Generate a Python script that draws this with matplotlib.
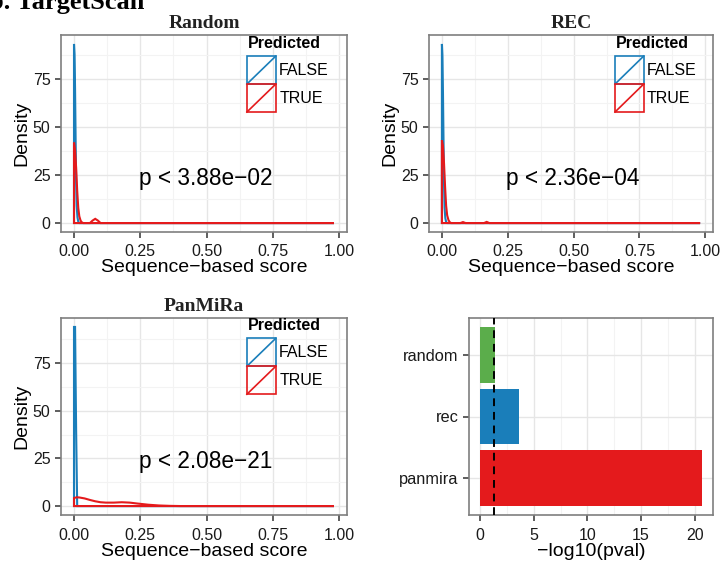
import numpy as np
import matplotlib
matplotlib.use("Agg")
import matplotlib.pyplot as plt
from matplotlib.patches import Rectangle
from matplotlib.lines import Line2D

# density outlines (score, density)
rand_false_x = [0.0, 0.0, 0.002, 0.004, 0.006, 0.008, 0.010, 0.013, 0.016, 0.02, 0.98]
rand_false_y = [0.0, 93.5, 88.0, 70.0, 45.0, 22.0, 9.0, 3.0, 0.8, 0.0, 0.0]
rand_true_x = [0.0, 0.0, 0.004, 0.008, 0.012, 0.016, 0.020, 0.025, 0.030, 0.035, 0.06, 0.07, 0.08, 0.09, 0.10, 0.98]
rand_true_y = [0.0, 42.0, 38.0, 29.0, 17.0, 8.0, 3.5, 1.2, 0.3, 0.0, 0.0, 1.3, 2.2, 1.3, 0.0, 0.0]

rec_false_x = [0.0, 0.0, 0.002, 0.004, 0.006, 0.008, 0.010, 0.013, 0.016, 0.02, 0.98]
rec_false_y = [0.0, 93.0, 87.0, 68.0, 44.0, 21.0, 8.0, 2.5, 0.6, 0.0, 0.0]
rec_true_x = [0.0, 0.0, 0.004, 0.008, 0.012, 0.016, 0.020, 0.025, 0.030, 0.035, 0.07, 0.08, 0.09, 0.16, 0.17, 0.18, 0.98]
rec_true_y = [0.0, 43.0, 40.0, 31.0, 19.0, 9.0, 4.0, 1.5, 0.4, 0.0, 0.0, 0.5, 0.0, 0.0, 0.6, 0.0, 0.0]

pan_false_x = [0.0, 0.0, 0.004, 0.008, 0.012, 0.98]
pan_false_y = [0.0, 94.0, 94.0, 40.0, 0.0, 0.0]
pan_true_x = [0.0, 0.0, 0.01, 0.02, 0.04, 0.06, 0.08, 0.10, 0.12, 0.15, 0.18, 0.21, 0.24, 0.28, 0.32, 0.36, 0.40, 0.98]
pan_true_y = [0.0, 4.2, 4.6, 4.5, 4.0, 3.2, 2.5, 2.0, 1.8, 1.8, 2.0, 1.8, 1.3, 0.7, 0.3, 0.1, 0.0, 0.0]

panel_titles = ["Random", "REC", "PanMiRa"]
pvals_text = ["p < 3.88e\u221202", "p < 2.36e\u221204", "p < 2.08e\u221221"]

# bar panel
bar_labels = ["panmira", "rec", "random"]
bar_values = [20.68, 3.63, 1.41]
cutoff = 1.30

RED = "#E41A1C"
BLUE = "#1A7EBA"
GREEN = "#5BAD4B"
bar_colors = [RED, BLUE, GREEN]

W, H = 722, 561
fig = plt.figure(figsize=(W / 100, H / 100), dpi=100)
plt.rcParams["font.family"] = ["Liberation Sans", "DejaVu Sans"]
SERIF = ["Liberation Serif", "DejaVu Serif"]


def px_axes(x0, y0, x1, y1):
    return fig.add_axes([x0 / W, 1 - y1 / H, (x1 - x0) / W, (y1 - y0) / H])


def style(ax):
    ax.set_facecolor("white")
    for s in ax.spines.values():
        s.set_color("#7f7f7f")
        s.set_linewidth(1.2)
    ax.grid(True, which="major", color="#e6e6e6", linewidth=1.0)
    ax.grid(True, which="minor", color="#f3f3f3", linewidth=0.8)
    ax.set_axisbelow(True)
    ax.tick_params(which="major", length=4.5, width=1.1, color="#333333",
                   labelsize=11.5, labelcolor="#1a1a1a", pad=3)
    ax.tick_params(axis="x", which="major", pad=4.5)
    ax.tick_params(which="minor", length=0)


def add_legend(ax, x0, ytop):
    kw, kh = 0.101, 0.142
    ax.text(x0 + 0.003, ytop + 0.065, "Predicted", transform=ax.transAxes,
            fontsize=11.5, fontweight="bold", va="center", ha="left")
    for i, (c, lab) in enumerate([(BLUE, "FALSE"), (RED, "TRUE")]):
        yb = ytop - (i + 1) * kh
        ax.add_patch(Rectangle((x0, yb), kw, kh, transform=ax.transAxes,
                               fill=False, edgecolor=c, linewidth=1.2, zorder=5))
        ax.add_line(Line2D([x0, x0 + kw], [yb, yb + kh], transform=ax.transAxes,
                           color=c, linewidth=1.2, zorder=5))
        ax.text(x0 + kw + 0.012, yb + kh / 2, lab, transform=ax.transAxes,
                fontsize=11.5, va="center", ha="left")


density_sets = [
    (rand_false_x, rand_false_y, rand_true_x, rand_true_y),
    (rec_false_x, rec_false_y, rec_true_x, rec_true_y),
    (pan_false_x, pan_false_y, pan_true_x, pan_true_y),
]
boxes = [(61, 35, 347, 232), (429, 35, 713, 232), (61, 318, 347, 515)]
leg_pos = [(0.650, 0.893), (0.655, 0.893), (0.650, 0.897)]

for k in range(3):
    ax = px_axes(*boxes[k])
    style(ax)
    fx, fy, tx, ty = density_sets[k]
    ax.fill(fx, fy, facecolor="none", edgecolor=BLUE, linewidth=1.5, zorder=3)
    ax.fill(tx, ty, facecolor="none", edgecolor=RED, linewidth=1.5, zorder=4)
    ymax = max(max(fy), max(ty))
    ax.set_xlim(-0.049, 0.98 * 1.05)
    ax.set_ylim(-0.05 * ymax, ymax * 1.05)
    ax.set_xticks([0, 0.25, 0.5, 0.75, 1.0])
    ax.set_xticklabels(["0.00", "0.25", "0.50", "0.75", "1.00"])
    ax.set_xticks([0.125, 0.375, 0.625, 0.875], minor=True)
    ax.set_yticks([0, 25, 50, 75])
    ax.set_yticks([12.5, 37.5, 62.5, 87.5], minor=True)
    ax.set_xlabel("Sequence\u2212based score", fontsize=14, labelpad=0)
    ax.set_ylabel("Density", fontsize=14, labelpad=2)
    ax.set_title(panel_titles[k], fontsize=14, fontweight="bold",
                 family=SERIF, color="#222222", pad=5)
    ax.text(0.507, 0.272, pvals_text[k], transform=ax.transAxes,
            fontsize=16.3, ha="center", va="center")
    add_legend(ax, *leg_pos[k])

# bar panel
ax = px_axes(469, 318, 713, 515)
style(ax)
ypos = np.arange(1, len(bar_labels) + 1)
ax.barh(ypos, bar_values, height=0.9, color=bar_colors, zorder=3)
ax.axvline(cutoff, color="black", linestyle=(0, (4, 3)), linewidth=1.4, zorder=4)
vmax = max(bar_values)
ax.set_xlim(-0.05 * vmax, vmax * 1.05)
ax.set_ylim(0.4, len(bar_labels) + 0.6)
ax.set_yticks(ypos)
ax.set_yticklabels(bar_labels)
ax.set_xticks([0, 5, 10, 15, 20])
ax.set_xticks([2.5, 7.5, 12.5, 17.5], minor=True)
ax.tick_params(axis="y", labelsize=11.8)
ax.grid(False, axis="y", which="minor")
ax.set_xlabel("\u2212log10(pval)", fontsize=14, labelpad=0)

fig.text(-11 / W, 1 - 8.5 / H, "b. TargetScan", fontsize=19, fontweight="bold",
         family=SERIF, ha="left", va="baseline")

fig.savefig("out.png", dpi=100)
